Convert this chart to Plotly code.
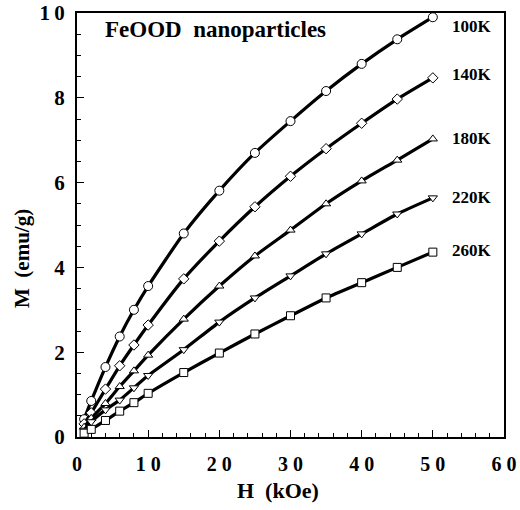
import plotly.graph_objects as go

H = [1, 2, 4, 6, 8, 10, 15, 20, 25, 30, 35, 40, 45, 50]
M100 = [0.42, 0.85, 1.65, 2.37, 3.0, 3.56, 4.8, 5.81, 6.7, 7.45, 8.16, 8.8, 9.38, 9.9]
M140 = [0.31, 0.57, 1.13, 1.68, 2.17, 2.64, 3.73, 4.62, 5.43, 6.15, 6.8, 7.4, 7.97, 8.47]
M180 = [0.23, 0.44, 0.79, 1.19, 1.56, 1.93, 2.78, 3.56, 4.27, 4.88, 5.5, 6.04, 6.53, 7.03]
M220 = [0.16, 0.36, 0.64, 0.87, 1.16, 1.45, 2.06, 2.71, 3.28, 3.8, 4.32, 4.79, 5.26, 5.64]
M260 = [0.09, 0.18, 0.39, 0.61, 0.81, 1.03, 1.52, 1.98, 2.43, 2.86, 3.28, 3.64, 4.0, 4.36]

temps = ["100K", "140K", "180K", "220K", "260K"]
label_y = [9.69, 8.54, 7.05, 5.66, 4.39]
label_x = 55.5
symbols = ["circle", "diamond", "triangle-up", "triangle-down", "square"]
sizes = [9, 8, 8, 8, 8]
series = [M100, M140, M180, M220, M260]

x_ticks = [0, 10, 20, 30, 40, 50, 60]
x_ticktext = ["0", "1 0", "2 0", "3 0", "4 0", "5 0", "6 0"]
y_ticks = [0, 2, 4, 6, 8, 10]
y_ticktext = ["0", "2", "4", "6", "8", "1\u20090"]

SERIF = "Liberation Serif"

fig = go.Figure()
for name, M, sym, sz in zip(temps, series, symbols, sizes):
    fig.add_trace(go.Scatter(
        x=H, y=M, mode="lines+markers", name=name,
        line=dict(color="black", width=3.2, shape="spline", smoothing=0.6),
        marker=dict(symbol=sym, size=sz, color="white",
                    line=dict(color="black", width=1)),
        showlegend=False, cliponaxis=False,
    ))

for t, ly in zip(temps, label_y):
    fig.add_annotation(x=label_x, y=ly, text="<b>" + t + "</b>", showarrow=False,
                       xanchor="center", yanchor="middle",
                       font=dict(family=SERIF, size=17, color="black"))

fig.add_annotation(x=19.4, y=9.6, text="<b>FeOOD  nanoparticles</b>", showarrow=False,
                   xanchor="center", yanchor="middle",
                   font=dict(family=SERIF, size=23, color="black"))

fig.add_annotation(xref="paper", yref="paper", x=0.471, y=-0.125, text="<b>H  (kOe)</b>",
                   showarrow=False, xanchor="center", yanchor="middle",
                   font=dict(family=SERIF, size=22, color="black"))
fig.add_annotation(xref="paper", yref="paper", x=-0.129, y=0.422, text="<b>M  (emu/g)</b>",
                   showarrow=False, textangle=-90, xanchor="center", yanchor="middle",
                   font=dict(family=SERIF, size=21, color="black"))

fig.update_xaxes(range=[0, 60], tickvals=x_ticks, ticktext=["<b>" + s + "</b>" for s in x_ticktext],
                 ticks="inside", ticklen=7, tickwidth=1.2, tickcolor="black",
                 minor=dict(ticks="inside", ticklen=4, dtick=2, tickcolor="black", tickwidth=1),
                 showline=True, linewidth=2, linecolor="black", mirror=True,
                 showgrid=False, zeroline=False, ticklabelstandoff=8, automargin=False,
                 tickfont=dict(family=SERIF, size=20, color="black"))
fig.update_yaxes(range=[0, 10], tickvals=y_ticks, ticktext=["<b>" + s + "</b>" for s in y_ticktext],
                 ticks="inside", ticklen=7, tickwidth=1.2, tickcolor="black",
                 minor=dict(ticks="inside", ticklen=4, dtick=0.5, tickcolor="black", tickwidth=1),
                 showline=True, linewidth=2, linecolor="black", mirror=True,
                 showgrid=False, zeroline=False, ticklabelstandoff=6, automargin=False,
                 tickfont=dict(family=SERIF, size=21, color="black"))

fig.update_layout(width=520, height=510, plot_bgcolor="white", paper_bgcolor="white",
                  margin=dict(l=77, r=16, t=13, b=73), hovermode=False)

fig.write_html("out.html", config={"displayModeBar": False},
               post_script="document.body.style.margin='0px';")
